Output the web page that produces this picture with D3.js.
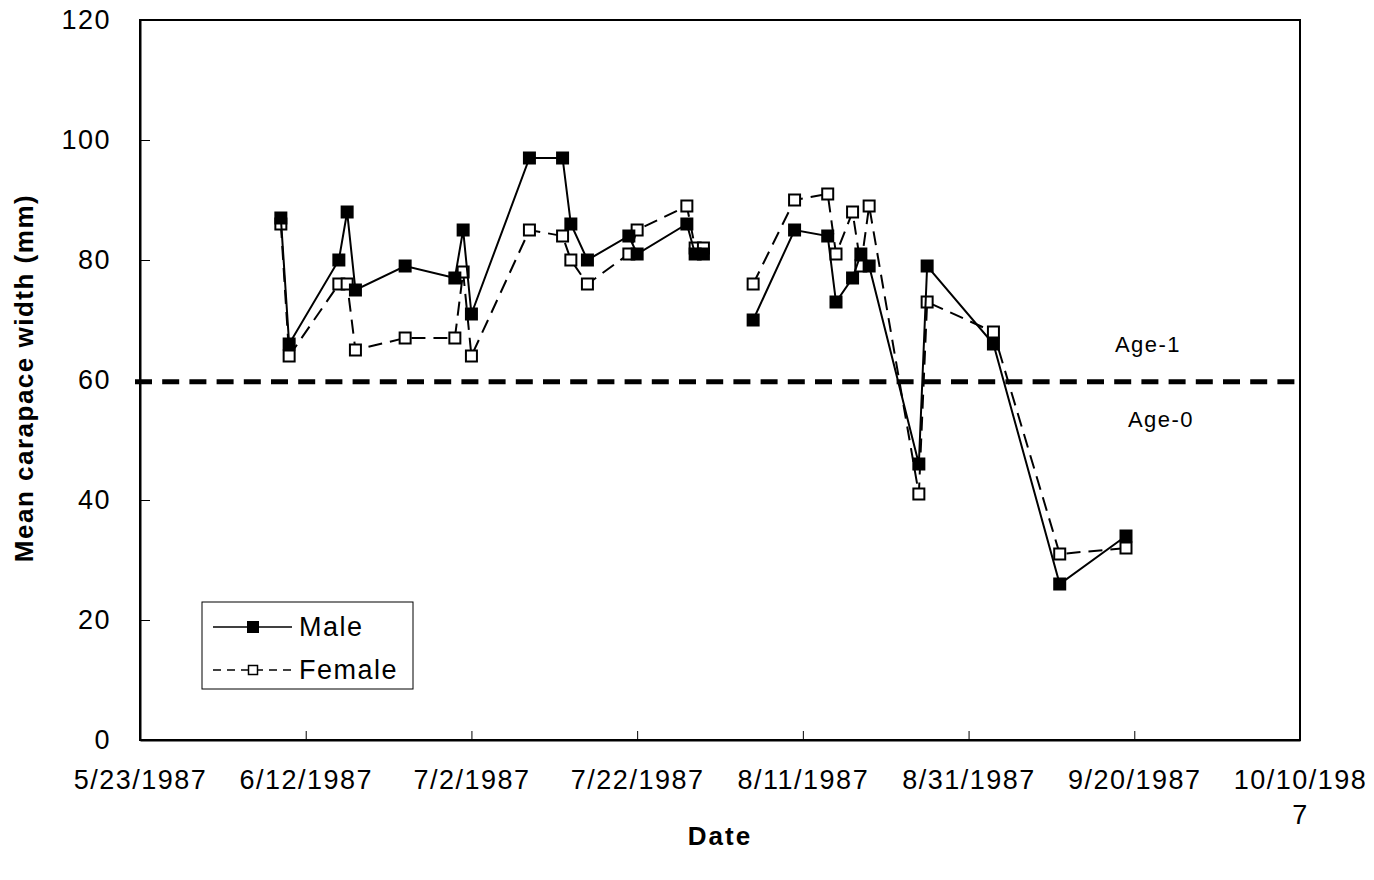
<!DOCTYPE html>
<html>
<head>
<meta charset="utf-8">
<script src="https://cdn.jsdelivr.net/npm/d3@7"></script>
<style>
  body { margin: 0; background: #fff; }
  text { font-family: Arial, "Liberation Sans", sans-serif; fill: #000; }
</style>
</head>
<body>
<div id="chart"></div>
<script>
var dates = ["6/9/1987", "6/10/1987", "6/16/1987", "6/17/1987", "6/18/1987", "6/24/1987",
  "6/30/1987", "7/1/1987", "7/2/1987", "7/9/1987", "7/13/1987", "7/14/1987", "7/16/1987",
  "7/21/1987", "7/22/1987", "7/28/1987", "7/29/1987", "7/30/1987",
  "8/5/1987", "8/10/1987", "8/14/1987", "8/15/1987", "8/17/1987", "8/18/1987", "8/19/1987",
  "8/25/1987", "8/26/1987", "9/3/1987", "9/11/1987", "9/19/1987"];

var male = [87, 66, 80, 88, 75, 79, 77, 85, 71, 97, 97, 86, 80, 84, 81, 86, 81, 81,
  70, 85, 84, 73, 77, 81, 79, 46, 79, 66, 26, 34];

var female = [86, 64, 76, 76, 65, 67, 67, 78, 64, 85, 84, 80, 76, 81, 85, 89, 82, 82,
  76, 90, 91, 81, 88, 79, 89, 41, 73, 68, 31, 32];

// the lines are broken between 7/30 and 8/5
var segmentStarts = [0, 18];

var xTickLabels = ["5/23/1987", "6/12/1987", "7/2/1987", "7/22/1987", "8/11/1987",
  "8/31/1987", "9/20/1987", "10/10/1987"];
var yTicks = [0, 20, 40, 60, 80, 100, 120];

var ageCutoff = 59.7;

var width = 1374, height = 880;
var margin = {top: 20, right: 74, bottom: 140, left: 140};

var parse = d3.utcParse("%m/%d/%Y");

var svg = d3.select("#chart")
  .append("svg")
  .attr("width", width)
  .attr("height", height);

var x = d3.scaleUtc()
  .domain([parse(xTickLabels[0]), parse(xTickLabels[xTickLabels.length - 1])])
  .range([margin.left, width - margin.right]);

var y = d3.scaleLinear()
  .domain([0, 120])
  .range([height - margin.bottom, margin.top]);

// frame
svg.append("rect")
  .attr("x", x.range()[0])
  .attr("y", y.range()[1])
  .attr("width", x.range()[1] - x.range()[0])
  .attr("height", y.range()[0] - y.range()[1])
  .attr("fill", "none")
  .attr("stroke", "#000")
  .attr("stroke-width", 2);

// y axis
var yAxis = svg.append("g")
  .attr("transform", "translate(" + margin.left + ",0)")
  .call(d3.axisLeft(y).tickValues(yTicks).tickSizeInner(-10).tickSizeOuter(0).tickPadding(29));
yAxis.select(".domain").attr("stroke-width", 2);
yAxis.selectAll(".tick line").attr("stroke-width", 1);
yAxis.selectAll(".tick text")
  .style("font-size", "27px")
  .style("letter-spacing", "1.5px")
  .attr("fill", "#000");

// x axis
var xAxis = svg.append("g")
  .attr("transform", "translate(0," + (height - margin.bottom) + ")")
  .call(d3.axisBottom(x)
    .tickValues(xTickLabels.map(parse))
    .tickSizeInner(-9).tickSizeOuter(0).tickPadding(30)
    .tickFormat(function(d, i) { return xTickLabels[i]; }));
xAxis.select(".domain").attr("stroke-width", 2);
xAxis.selectAll(".tick line").attr("stroke-width", 1);
xAxis.selectAll(".tick text")
  .style("font-size", "27px")
  .style("letter-spacing", "1.5px")
  .attr("fill", "#000")
  .each(function() { wrapChars(d3.select(this), 140); });

// breaks a label by characters when it is too wide (like 10/10/198 / 7)
function wrapChars(text, maxWidth) {
  var full = text.text();
  if (text.node().getComputedTextLength() <= maxWidth) return;
  var dy = text.attr("dy");
  text.text(null);
  var line = "";
  var tspan = text.append("tspan").attr("x", 0).attr("dy", dy);
  for (var i = 0; i < full.length; i++) {
    tspan.text(line + full[i]);
    if (tspan.node().getComputedTextLength() > maxWidth && line.length > 0) {
      tspan.text(line);
      line = full[i];
      tspan = text.append("tspan").attr("x", 0).attr("dy", "1.3em").text(line);
    } else {
      line = line + full[i];
    }
  }
}

// axis titles
svg.append("text")
  .attr("transform", "translate(33," + (y(60) - 2) + ") rotate(-90)")
  .attr("text-anchor", "middle")
  .style("font-size", "26px")
  .style("font-weight", "bold")
  .style("letter-spacing", "1.5px")
  .text("Mean carapace width (mm)");

svg.append("text")
  .attr("x", 720)
  .attr("y", 845)
  .attr("text-anchor", "middle")
  .style("font-size", "26px")
  .style("font-weight", "bold")
  .style("letter-spacing", "2px")
  .text("Date");

// age cutoff line
svg.append("line")
  .attr("x1", x.range()[0] - 5)
  .attr("x2", x.range()[1])
  .attr("y1", y(ageCutoff))
  .attr("y2", y(ageCutoff))
  .attr("stroke", "#000")
  .attr("stroke-width", 5)
  .attr("stroke-dasharray", "17,10.2");

svg.append("text")
  .attr("x", 1148)
  .attr("y", 352)
  .attr("text-anchor", "middle")
  .style("font-size", "22px")
  .style("letter-spacing", "1.5px")
  .text("Age-1");

svg.append("text")
  .attr("x", 1161)
  .attr("y", 427)
  .attr("text-anchor", "middle")
  .style("font-size", "22px")
  .style("letter-spacing", "1.5px")
  .text("Age-0");

// build points
var rows = dates.map(function(d, i) {
  return {date: parse(d), male: male[i], female: female[i]};
});

function segments() {
  var out = [];
  for (var s = 0; s < segmentStarts.length; s++) {
    var end = s + 1 < segmentStarts.length ? segmentStarts[s + 1] : rows.length;
    out.push(rows.slice(segmentStarts[s], end));
  }
  return out;
}

function drawSeries(key, dash, filled, size) {
  var line = d3.line()
    .x(function(d) { return x(d.date); })
    .y(function(d) { return y(d[key]); });

  svg.selectAll(".line-" + key)
    .data(segments())
    .enter()
    .append("path")
    .attr("class", "line-" + key)
    .attr("d", line)
    .attr("fill", "none")
    .attr("stroke", "#000")
    .attr("stroke-width", 2)
    .attr("stroke-dasharray", dash);

  svg.selectAll(".pt-" + key)
    .data(rows)
    .enter()
    .append("rect")
    .attr("class", "pt-" + key)
    .attr("x", function(d) { return x(d.date) - size / 2; })
    .attr("y", function(d) { return y(d[key]) - size / 2; })
    .attr("width", size)
    .attr("height", size)
    .attr("fill", filled ? "#000" : "#fff")
    .attr("stroke", "#000")
    .attr("stroke-width", filled ? 0 : 2);
}

drawSeries("female", "14,8", false, 11);
drawSeries("male", null, true, 13);

// legend
var legend = svg.append("g");
legend.append("rect")
  .attr("x", 202).attr("y", 602)
  .attr("width", 211).attr("height", 87)
  .attr("fill", "#fff")
  .attr("stroke", "#000")
  .attr("stroke-width", 1);

var legendItems = [
  {label: "Male", dash: null, filled: true, size: 12, y: 627},
  {label: "Female", dash: "8,6", filled: false, size: 9, y: 670}
];

var item = legend.selectAll(".item")
  .data(legendItems)
  .enter()
  .append("g")
  .attr("transform", function(d) { return "translate(0," + d.y + ")"; });

item.append("line")
  .attr("x1", 213).attr("x2", 292)
  .attr("stroke", "#000")
  .attr("stroke-width", 1.5)
  .attr("stroke-dasharray", function(d) { return d.dash; });

item.append("rect")
  .attr("x", function(d) { return 253 - d.size / 2; })
  .attr("y", function(d) { return -d.size / 2; })
  .attr("width", function(d) { return d.size; })
  .attr("height", function(d) { return d.size; })
  .attr("fill", function(d) { return d.filled ? "#000" : "#fff"; })
  .attr("stroke", "#000")
  .attr("stroke-width", function(d) { return d.filled ? 0 : 1.5; });

item.append("text")
  .attr("x", 299)
  .attr("y", 9)
  .style("font-size", "27px")
  .style("letter-spacing", "1.5px")
  .text(function(d) { return d.label; });
</script>
</body>
</html>
